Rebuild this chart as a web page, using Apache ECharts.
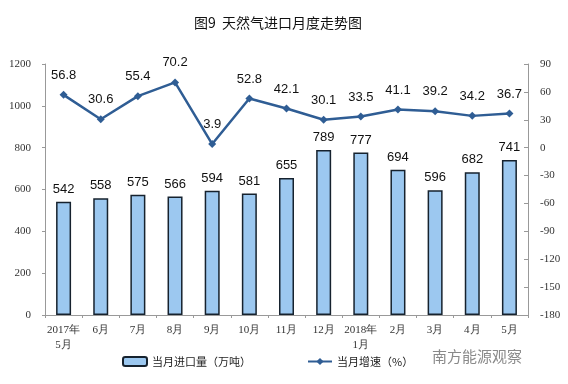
<!DOCTYPE html>
<html><head><meta charset="utf-8">
<script src="https://cdn.jsdelivr.net/npm/echarts@6/dist/echarts.min.js"></script>
<style>html,body{margin:0;padding:0;background:#fff}#c{width:568px;height:384px}</style>
</head><body><div id="c"></div>
<script>
const categories = ['2017年\n5月','6月','7月','8月','9月','10月','11月','12月','2018年\n1月','2月','3月','4月','5月'];
const importVolume = [542,558,575,566,594,581,655,789,777,694,596,682,741];
const growthRate = [56.8,30.6,55.4,70.2,3.9,52.8,42.1,30.1,33.5,41.1,39.2,34.2,36.7];
const leftTicks = {min:0,max:1200,interval:200};
const rightTicks = {min:-180,max:90,interval:30};

const chart = echarts.init(document.getElementById('c'));
chart.setOption({
  backgroundColor:'#fff',
  animation:false,
  title:{text:'图9  天然气进口月度走势图',left:189,top:11,
    textStyle:{fontFamily:'Noto Sans CJK SC',fontSize:14,fontWeight:'normal',color:'#111'}},
  grid:{left:45,right:40,top:64,bottom:69},
  legend:{left:117,top:351,itemGap:56,itemWidth:24,itemHeight:9,
    textStyle:{fontFamily:'Noto Sans CJK SC',fontSize:11,color:'#222'},
    data:[{name:'当月进口量（万吨）'},{name:'当月增速（%）'}]},
  graphic:[{type:'text',left:432,top:349,style:{text:'南方能源观察',fontFamily:'Noto Sans CJK SC',fontSize:15,fill:'#8a8a8a'}}],
  xAxis:{type:'category',data:categories,
    axisLine:{lineStyle:{color:'#999'}},
    axisTick:{show:true,length:3,lineStyle:{color:'#999'}},
    axisLabel:{fontFamily:'Liberation Serif',fontSize:11,color:'#333',margin:8,lineHeight:15,interval:0}},
  yAxis:[
    {type:'value',min:leftTicks.min,max:leftTicks.max,interval:leftTicks.interval,
      splitLine:{show:false},
      axisLine:{show:true,lineStyle:{color:'#999'}},
      axisTick:{show:true,length:3,lineStyle:{color:'#999'}},
      axisLabel:{fontFamily:'Liberation Serif',fontSize:11,color:'#333',margin:14,formatter:v=>String(v)}},
    {type:'value',min:rightTicks.min,max:rightTicks.max,interval:rightTicks.interval,
      splitLine:{show:false},
      axisLine:{show:true,lineStyle:{color:'#999'}},
      axisTick:{show:true,inside:true,length:4,lineStyle:{color:'#999'}},
      axisLabel:{fontFamily:'Liberation Serif',fontSize:11,color:'#333',margin:12,formatter:v=>String(v)}}
  ],
  series:[
    {name:'当月进口量（万吨）',type:'bar',data:importVolume,barWidth:15,yAxisIndex:0,
      itemStyle:{color:'#9cc8f0',borderColor:'#16222e',borderWidth:1.5},
      label:{show:true,position:'top',distance:6,fontFamily:'Liberation Sans',fontSize:13,color:'#111'}},
    {name:'当月增速（%）',type:'line',data:growthRate,yAxisIndex:1,
      symbol:'diamond',symbolSize:8,
      lineStyle:{color:'#2f5d94',width:2.5},
      itemStyle:{color:'#2f5d94'},
      label:{show:true,position:'top',distance:9,fontFamily:'Liberation Sans',fontSize:13,color:'#111'}}
  ]
});
</script></body></html>
